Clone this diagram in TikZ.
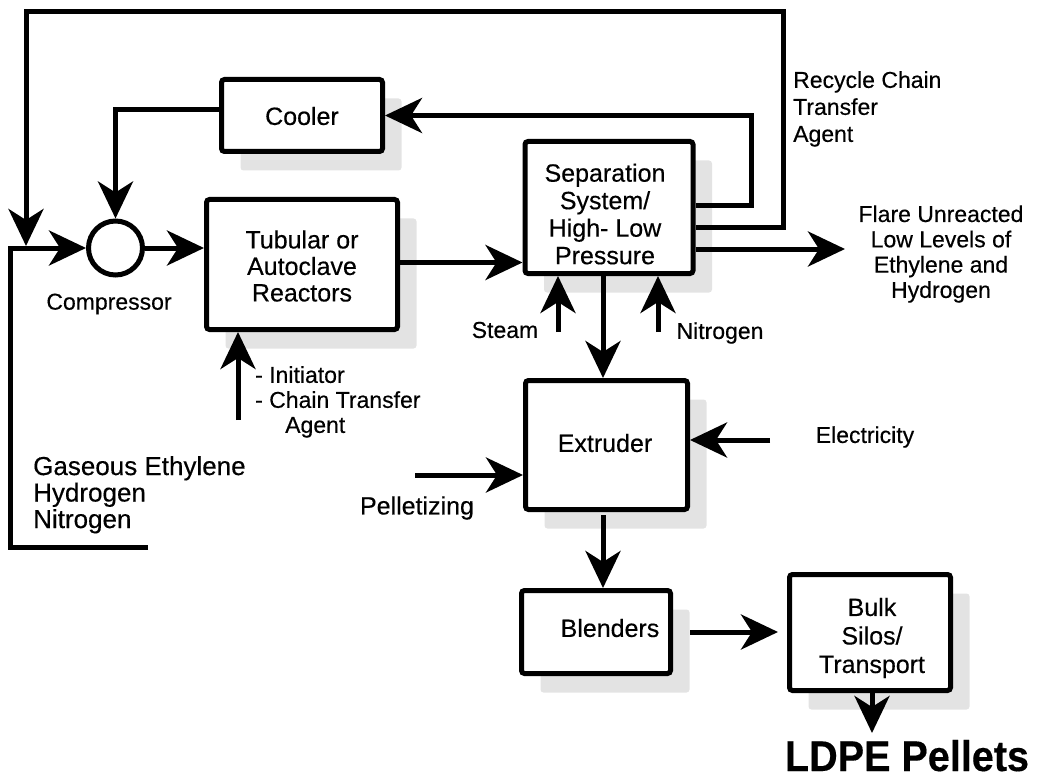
\documentclass[tikz,border=0pt]{standalone}
\usepackage{fontspec}
\setmainfont{Liberation Sans}[FakeBold=0.35]
\usetikzlibrary{arrows.meta,shadows,calc}
\begin{document}
\begin{tikzpicture}[x=1pt,y=-1pt,
  line/.style={line width=5pt},
  arr/.style={line width=5pt,-{Stealth[length=37pt,width=35pt,inset=11pt]}},
  box/.style={draw,line width=5pt,rounded corners=3pt,fill=white,inner sep=0pt,
    general shadow={shadow xshift=19pt,shadow yshift=-19pt,fill=black!11}},
  boxtext/.style={font=\fontsize{25}{27.5}\selectfont,align=center,inner sep=0pt},
  lbl/.style={font=\fontsize{23}{26.5}\selectfont,inner sep=0pt},
  lbll/.style={lbl,align=left},
  lblc/.style={lbl,align=center}]
\useasboundingbox (0,0) rectangle (1037,781);
% boxes
\node[box,minimum width=161pt,minimum height=72pt] (cooler) at (302,115.5) {};
\node[box,minimum width=191pt,minimum height=130pt] (reactor) at (302,264.5) {};
\node[box,minimum width=168pt,minimum height=132pt] (sep) at (609,207.5) {};
\node[box,minimum width=162pt,minimum height=129pt] (ext) at (606.5,445) {};
\node[box,minimum width=149pt,minimum height=83pt] (blend) at (596,632) {};
\node[box,minimum width=161pt,minimum height=116pt] (bulk) at (870,632.5) {};
\node[draw,circle,line width=5pt,minimum size=54pt,inner sep=0pt,fill=white] (comp) at (115.5,248) {};
% box texts
\node[boxtext] (tcooler) at (302,116) {Cooler};
\node[boxtext,font=\fontsize{25}{26.5}\selectfont] (treactor) at (302,266) {Tubular or\\Autoclave\\Reactors};
\node[boxtext] (tsep) at (605,214) {Separation\\System/\\High- Low\\Pressure};
\node[boxtext] (text) at (605,443) {Extruder};
\node[boxtext] (tblend) at (610,628) {Blenders};
\node[boxtext,font=\fontsize{25}{28.5}\selectfont] (tbulk) at (872,638) {Bulk\\Silos/\\Transport};
% labels
\node[lbl] (lcomp) at (109,304) {Compressor};
\node[lbll,anchor=north west,font=\fontsize{26}{26.5}\selectfont] (lgas) at (33,456) {Gaseous Ethylene\\Hydrogen\\Nitrogen};
\node[lbll,anchor=north west,font=\fontsize{23}{25}\selectfont] (linit) at (255,366) {- Initiator\\- Chain Transfer\\\hspace*{30pt}Agent};
\node[lbll,anchor=north west,font=\fontsize{23}{27}\selectfont] (lrec) at (793,71) {Recycle Chain\\Transfer\\Agent};
\node[lblc,font=\fontsize{23}{25.3}\selectfont] (lflare) at (941,254) {Flare Unreacted\\Low Levels of\\Ethylene and\\Hydrogen};
\node[lbl] (lsteam) at (505,330) {Steam};
\node[lbl] (lnit) at (720,333) {Nitrogen};
\node[lbl] (lelec) at (865,437) {Electricity};
\node[boxtext] (lpel) at (417,508) {Pelletizing};
\node[inner sep=0pt,anchor=base,xscale=0.92,font=\fontsize{43}{45}\selectfont\bfseries] (lldpe) at (907,771) {LDPE Pellets};
% free ends
\coordinate (tr) at (783,12);
\coordinate (jn) at (26,246);
\coordinate (feedend) at (148,547);
\coordinate (feedc) at (10,248);
\coordinate (cr) at (751,115.5);
\coordinate (flareend) at (845,249);
\coordinate (steam0) at (558,332);
\coordinate (nit0) at (658,332);
\coordinate (init0) at (238,420);
\coordinate (elec0) at (770,440);
\coordinate (pel0) at (415,475);
% connectors
\draw[arr] ([yshift=-20pt]sep.east) -| (tr) -| (jn);
\draw[arr] (feedend) -| (feedc) -- (comp.west);
\draw[arr] ([yshift=5.5pt]cooler.west) -| (comp.north);
\draw[arr] ([yshift=2pt]sep.east) -| (cr) -- (cooler.east);
\draw[arr] (comp.east) -- (reactor.west |- comp.east);
\draw[arr] ([yshift=2pt]reactor.east) -- ([yshift=2pt]sep.west |- reactor.east);
\draw[arr] (sep.east |- flareend) -- (flareend);
\draw[arr] (steam0) -- (steam0 |- sep.south);
\draw[arr] (nit0) -- (nit0 |- sep.south);
\draw[arr] (sep.south -| 603,0) -- (ext.north -| 603,0);
\draw[arr] (init0) -- (init0 |- reactor.south);
\draw[arr] (elec0) -- (ext.east |- elec0);
\draw[arr] (pel0) -- (ext.west |- pel0);
\draw[arr,shorten <=3pt] (ext.south -| 603,0) -- (blend.north -| 603,0);
\draw[arr,shorten <=17pt,shorten >=9pt] (blend.east) -- (bulk.west |- blend.east);
\draw[arr] (bulk.south -| 872,0) -- ++(0,40);
\end{tikzpicture}
\end{document}
